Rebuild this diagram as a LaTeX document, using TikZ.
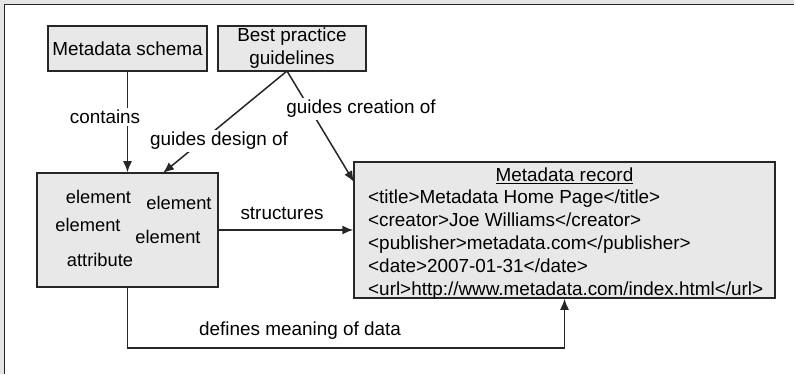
\documentclass[tikz,border=0pt]{standalone}
\usepackage{fontspec}
\setmainfont{Liberation Sans}
\usetikzlibrary{arrows.meta,calc}
\definecolor{boxfill}{HTML}{E8E8E8}
\definecolor{linec}{HTML}{262626}
\definecolor{bandc}{HTML}{E4E4E4}
\begin{document}
\begin{tikzpicture}[x=1pt,y=-1pt,
  box/.style={draw=linec,fill=boxfill,line width=1.5pt,inner sep=0pt,anchor=center,
    font=\fontsize{18.9}{23}\selectfont},
  txt/.style={font=\fontsize{18.9}{23}\selectfont,inner sep=0pt,text=black},
  etxt/.style={font=\fontsize{18.3}{23}\selectfont,inner sep=0pt,text=black,anchor=base},
  lbl/.style={font=\fontsize{18.9}{23}\selectfont,fill=white,inner sep=2pt,anchor=base},
  conn/.style={draw=linec,line width=1.5pt,-{Latex[length=11pt,width=9pt]}}]
\useasboundingbox (0,0) rectangle (794,374);
\fill[white] (0,0) rectangle (794,374);
\fill[bandc] (0,0) rectangle (794,4);
\fill[bandc] (0,0) rectangle (3.5,374);
\draw[linec,line width=1.5pt] (4.5,374) -- (4.5,4.5) -- (794,4.5);

% boxes
\node[box,minimum width=159pt,minimum height=45pt] (schema) at (127.5,48.5) {Metadata schema};
\node[box,minimum width=148pt,minimum height=45pt,align=center] (bp) at (292,48.5) {Best practice\\guidelines};
\node[box,minimum width=181pt,minimum height=114pt] (elem) at (127.5,230) {};
\node[box,minimum width=421pt,minimum height=136pt] (rec) at (564.5,230) {};

% element box content
\node[etxt] (e1) at (98.5,203) {element};
\node[etxt] (e2) at (179,209) {element};
\node[etxt] (e3) at (88,231) {element};
\node[etxt] (e4) at (168,243) {element};
\node[etxt] (e5) at (100,266) {attribute};

% record content
\node[txt,anchor=base] (rh) at (564.5,182) {\underline{Metadata record}};
\node[txt,anchor=base west] (r1) at (368,203) {<title>Metadata Home Page</title>};
\node[txt,anchor=base west] (r2) at (368,226) {<creator>Joe Williams</creator>};
\node[txt,anchor=base west] (r3) at (368,249) {<publisher>metadata.com</publisher>};
\node[txt,anchor=base west] (r4) at (368,272) {<date>2007-01-31</date>};
\node[txt,anchor=base west] (r5) at (368,295) {<url>http://www.metadata.com/index.html</url>};

% connectors
\coordinate (bpo) at (287,71);
\coordinate (ein) at (163,173);
\coordinate (rin) at (354,182);
\draw[conn] (schema.south) -- (elem.north);
\draw[conn] (bpo) -- (ein);
\draw[conn] (bpo) -- (rin);
\draw[conn] (elem.east) -- (rec.west);
\draw[conn] (elem.south) -- ++(0,60) -| (rec.south);

% labels
\node[lbl] (lc) at (105,124) {contains};
\node[lbl] (ld) at (219,146) {guides design of};
\node[lbl] (lg) at (361,114) {guides creation of};
\node[lbl,fill=none] (ls) at (282,219) {structures};
\node[lbl,fill=none] (lm) at (300,335) {defines meaning of data};
\end{tikzpicture}
\end{document}
